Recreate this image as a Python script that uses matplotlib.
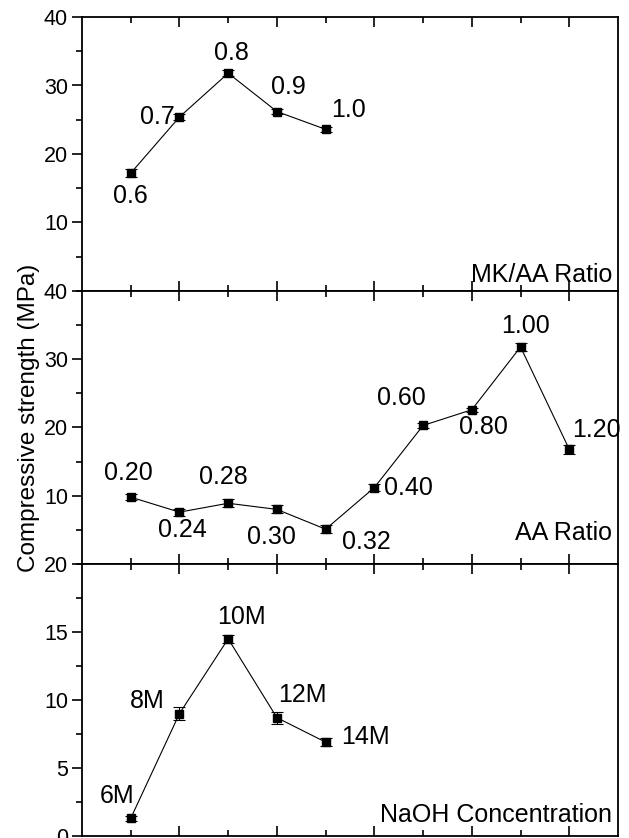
import matplotlib
matplotlib.use("Agg")
import matplotlib.pyplot as plt
from matplotlib.ticker import MultipleLocator, FixedLocator

plt.rcParams['font.family'] = ['Liberation Sans', 'DejaVu Sans']

# MK/AA ratio series
mk_labels = ['0.6', '0.7', '0.8', '0.9', '1.0']
mk_x = [1, 2, 3, 4, 5]
mk_y = [17.2, 25.4, 31.8, 26.2, 23.6]
mk_err = [0.6, 0.4, 0.4, 0.4, 0.4]

# AA ratio series
aa_labels = ['0.20', '0.24', '0.28', '0.30', '0.32', '0.40', '0.60', '0.80', '1.00', '1.20']
aa_x = [1, 2, 3, 4, 5, 6, 7, 8, 9, 10]
aa_y = [9.8, 7.6, 8.9, 8.0, 5.1, 11.2, 20.3, 22.6, 31.8, 16.8]
aa_err = [0.4, 0.5, 0.6, 0.6, 0.6, 0.5, 0.4, 0.3, 0.6, 0.7]

# NaOH concentration series
na_labels = ['6M', '8M', '10M', '12M', '14M']
na_x = [1, 2, 3, 4, 5]
na_y = [1.3, 9.0, 14.5, 8.7, 6.9]
na_err = [0.2, 0.5, 0.3, 0.45, 0.3]

# label offsets in pixels (dx, dy, ha)
mk_off = [(0, -23, 'center'), (-5, 0, 'right'), (3, 20, 'center'), (11, 25, 'center'), (5, 19, 'left')]
aa_off = [(-2, 24, 'center'), (3, -18, 'center'), (-5, 26, 'center'), (-5, -28, 'center'),
          (41, -13, 'center'), (10, 0, 'left'), (-22, 27, 'center'), (12, -17, 'center'),
          (5, 21, 'center'), (3, 19, 'left')]
na_off = [(-14, 22, 'center'), (-32, 13, 'center'), (13, 22, 'center'), (25, 23, 'center'), (15, 5, 'left')]

fig = plt.figure(figsize=(6.29, 8.38), dpi=100)
gs = fig.add_gridspec(3, 1, left=82/629, right=618/629, top=1-17/838, bottom=1-836/838,
                      hspace=0, height_ratios=[274, 273, 272])
axes = [fig.add_subplot(gs[i]) for i in range(3)]

panels = [
    (mk_x, mk_y, mk_err, mk_labels, mk_off, 'MK/AA Ratio', 40, 10, 5, 9),
    (aa_x, aa_y, aa_err, aa_labels, aa_off, 'AA Ratio', 40, 10, 5, 24),
    (na_x, na_y, na_err, na_labels, na_off, 'NaOH Concentration', 20, 5, 2.5, 14),
]

for ax, (x, y, err, labels, offs, title, ymax, major, minor, title_dy) in zip(axes, panels):
    ax.errorbar(x, y, yerr=err, color='black', lw=0.8, marker='s', ms=5.5,
                capsize=4, elinewidth=0.8, capthick=0.8)
    for xi, yi, lab, (dx, dy, ha) in zip(x, y, labels, offs):
        ax.annotate(lab, (xi, yi), xytext=(dx, dy), textcoords='offset pixels',
                    ha=ha, va='center', fontsize=18)
    ax.annotate(title, (1, 0), xycoords='axes fraction', xytext=(-6, title_dy),
                textcoords='offset pixels', ha='right', va='baseline', fontsize=18)

    ax.set_xlim(0, 11)
    ax.set_ylim(0, ymax)
    ax.xaxis.set_major_locator(FixedLocator([2, 4, 6, 8, 10]))
    ax.xaxis.set_minor_locator(FixedLocator([1, 3, 5, 7, 9]))
    ax.yaxis.set_major_locator(MultipleLocator(major))
    ax.yaxis.set_minor_locator(MultipleLocator(minor))
    ax.tick_params(axis='x', which='both', direction='in', top=True, bottom=True,
                   labelbottom=False, width=1.2)
    ax.tick_params(axis='x', which='major', length=7)
    ax.tick_params(axis='x', which='minor', length=4)
    ax.tick_params(axis='y', which='both', direction='out', right=False, width=1.2, labelsize=15.5)
    ax.tick_params(axis='y', which='major', length=7, pad=3)
    ax.tick_params(axis='y', which='minor', length=4)
    for s in ax.spines.values():
        s.set_linewidth(1.3)

# hide the zero label on the upper panels, it sits under the next panel's top label
for ax in axes[:2]:
    ax.set_yticks([10, 20, 30, 40])

fig.text(29/629, 1-418/838, 'Compressive strength (MPa)', rotation=90,
         ha='center', va='center', fontsize=17.5)

fig.savefig('out.png', dpi=100)
